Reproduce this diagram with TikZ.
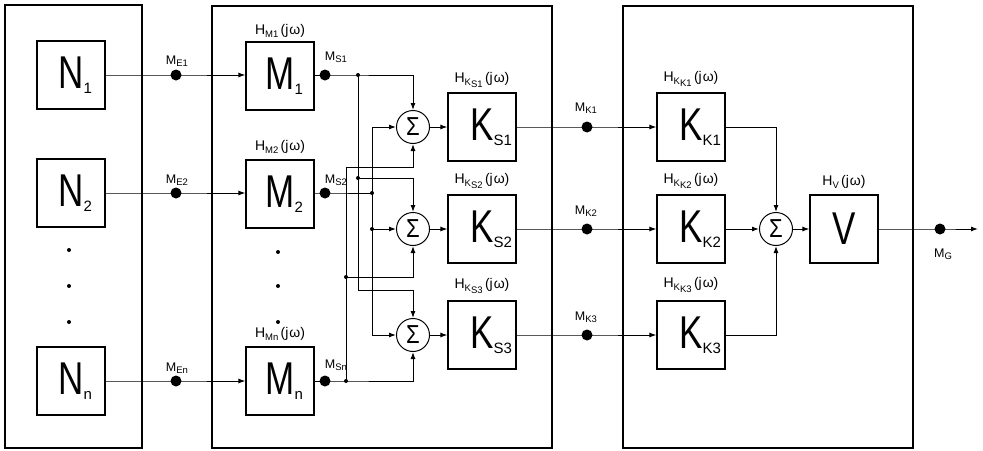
\documentclass[tikz,border=0pt]{standalone}
\usepackage{fontspec}
\setmainfont{Liberation Sans}
\usepackage{graphicx}
\usetikzlibrary{arrows.meta}
\newcommand{\blkt}[2]{\scalebox{0.76}[1]{\fontsize{46}{46}\selectfont #1}\rlap{\raisebox{-5pt}{\fontsize{15}{15}\selectfont #2}}}
\newcommand{\sumsym}{\scalebox{0.85}[1]{\fontsize{26}{26}\selectfont Σ}}
\newcommand{\sbs}[1]{\raisebox{-2.5pt}{\fontsize{9.5}{9.5}\selectfont #1}}
\newcommand{\sbsb}[2]{\raisebox{-2.5pt}{\fontsize{9.5}{9.5}\selectfont #1\raisebox{-2.5pt}{#2}}}
\newcommand{\jw}{\,(j\kern1pt ω)}
\tikzset{
 blkbox/.style={draw, line width=1.2pt, minimum width=68pt, minimum height=68pt, inner sep=0pt},
 sumnode/.style={draw, circle, line width=1pt, minimum size=33pt, inner sep=0pt},
 wire/.style={line width=1pt},
 arr/.style={wire, -{Latex[length=7pt,width=5pt]}},
 bigdot/.style={circle, fill, inner sep=0pt, minimum size=11pt},
 jdot/.style={circle, fill, inner sep=0pt, minimum size=4pt},
 edot/.style={circle, fill, inner sep=0pt, minimum size=4pt},
 lbl/.style={font=\fontsize{14}{16}\selectfont, inner sep=1pt},
 sig/.style={font=\fontsize{12.5}{14}\selectfont, inner sep=1pt},
 frame/.style={line width=1.2pt}
}
\begin{document}
\begin{tikzpicture}[x=1pt,y=-1pt]
\useasboundingbox (0,0) rectangle (983,450);
% frames
\draw[frame] (5,5) rectangle (142,448);
\draw[frame] (212,6) rectangle (552,448);
\draw[frame] (623,6) rectangle (913,448);
% N blocks
\node[blkbox] (N1) at (71,75) {\blkt{N}{1}};
\node[blkbox] (N2) at (71,193) {\blkt{N}{2}};
\node[blkbox] (Nn) at (71,381) {\blkt{N}{n}};
\node[edot] (nd1) at (69,250) {};
\node[edot] (nd2) at (69,286) {};
\node[edot] (nd3) at (69,322) {};
% M blocks
\node[blkbox] (M1) at (280,76) {\blkt{M}{1}};
\node[blkbox] (M2) at (280,194) {\blkt{M}{2}};
\node[blkbox] (Mn) at (280,381) {\blkt{M}{n}};
\node[edot] (md1) at (278,252) {};
\node[edot] (md2) at (278,286) {};
\node[edot] (md3) at (278,322) {};
\node[lbl] (hM1) at (280,31) {H\sbs{M1}\jw};
\node[lbl] (hM2) at (280,147) {H\sbs{M2}\jw};
\node[lbl] (hMn) at (280,334) {H\sbs{Mn}\jw};
% measuring points E
\node[bigdot] (ME1) at (176,75) {};
\node[bigdot] (ME2) at (176,193) {};
\node[bigdot] (MEn) at (176,381) {};
\node[sig] (lME1) at (177,61) {M\sbs{E1}};
\node[sig] (lME2) at (177,180) {M\sbs{E2}};
\node[sig] (lMEn) at (177,368) {M\sbs{En}};
\draw[arr] (N1.east) -- (ME1.center) -- (M1.west |- ME1);
\draw[arr] (N2.east) -- (ME2.center) -- (M2.west |- ME2);
\draw[arr] (Nn.east) -- (MEn.center) -- (Mn.west);
% sums
\node[sumnode] (S1) at (413,127) {\sumsym};
\node[sumnode] (S2) at (413,229) {\sumsym};
\node[sumnode] (S3) at (413,335) {\sumsym};
% M_S points
\node[bigdot] (MS1) at (325,75) {};
\node[bigdot] (MS2) at (325,193) {};
\node[bigdot] (MSn) at (325,381) {};
\node[sig] (lMS1) at (336,57) {M\sbs{S1}};
\node[sig] (lMS2) at (336,180) {M\sbs{S2}};
\node[sig] (lMSn) at (336,365) {M\sbs{Sn}};
% junctions
\node[jdot] (j1) at (358,75) {};
\node[jdot] (j2) at (358,178) {};
\node[jdot] (j3) at (372,193) {};
\node[jdot] (j4) at (372,229) {};
\node[jdot] (j5) at (346,381) {};
\node[jdot] (j6) at (346,277) {};
\coordinate (b1) at (358,290);
\coordinate (b2t) at (372,127);
\coordinate (b2b) at (372,335);
\coordinate (b3t) at (346,167);
% M_S1 -> top inputs
\draw[arr] (M1.east |- MS1) -- (MS1.center) -| (S1.north);
\draw[arr] (j1.center) -- (b1) -| (S3.north);
\draw[arr] (j2.center) -| (S2.north);
% M_S2 -> left inputs
\draw[wire] (M2.east |- MS2) -- (MS2.center) -- (j3.center);
\draw[wire] (b2t) -- (b2b);
\draw[arr] (b2t) -- (S1.west);
\draw[arr] (j4.center) -- (S2.west);
\draw[arr] (b2b) -- (S3.west);
% M_Sn -> bottom inputs
\draw[arr] (Mn.east) -- (MSn.center) -| (S3.south);
\draw[arr] (j5.center) -- (b3t) -| (S1.south);
\draw[arr] (j6.center) -| (S2.south);
% K_S blocks
\node[blkbox] (KS1) at (482,127) {\blkt{K}{S1}};
\node[blkbox] (KS2) at (482,229) {\blkt{K}{S2}};
\node[blkbox] (KS3) at (482,335) {\blkt{K}{S3}};
\node[lbl] (hKS1) at (482,80) {H\sbsb{K}{S1}\jw};
\node[lbl] (hKS2) at (482,181) {H\sbsb{K}{S2}\jw};
\node[lbl] (hKS3) at (482,286) {H\sbsb{K}{S3}\jw};
\draw[arr] (S1.east) -- (KS1.west);
\draw[arr] (S2.east) -- (KS2.west);
\draw[arr] (S3.east) -- (KS3.west);
% M_K points
\node[bigdot] (MK1) at (587,127) {};
\node[bigdot] (MK2) at (587,229) {};
\node[bigdot] (MK3) at (587,335) {};
\node[sig] (lMK1) at (586,108) {M\sbs{K1}};
\node[sig] (lMK2) at (586,211) {M\sbs{K2}};
\node[sig] (lMK3) at (586,317) {M\sbs{K3}};
% K_K blocks
\node[blkbox] (KK1) at (691,127) {\blkt{K}{K1}};
\node[blkbox] (KK2) at (691,229) {\blkt{K}{K2}};
\node[blkbox] (KK3) at (691,335) {\blkt{K}{K3}};
\node[lbl] (hKK1) at (691,79) {H\sbsb{K}{K1}\jw};
\node[lbl] (hKK2) at (691,181) {H\sbsb{K}{K2}\jw};
\node[lbl] (hKK3) at (691,285) {H\sbsb{K}{K3}\jw};
\draw[arr] (KS1.east) -- (MK1.center) -- (KK1.west);
\draw[arr] (KS2.east) -- (MK2.center) -- (KK2.west);
\draw[arr] (KS3.east) -- (MK3.center) -- (KK3.west);
% final sum and V
\node[sumnode] (S4) at (776,229) {\sumsym};
\node[blkbox] (V) at (844,229) {\scalebox{0.76}[1]{\fontsize{46}{46}\selectfont V}};
\node[lbl] (hV) at (844,182) {H\sbs{V}\jw};
\draw[arr] (KK1.east) -| (S4.north);
\draw[arr] (KK2.east) -- (S4.west);
\draw[arr] (KK3.east) -| (S4.south);
\draw[arr] (S4.east) -- (V.west);
\node[bigdot] (MG) at (940,229) {};
\node[sig] (lMG) at (943,254) {M\sbs{G}};
\coordinate (out) at (978,229);
\draw[arr] (V.east) -- (MG.center) -- (out);
\end{tikzpicture}
\end{document}
